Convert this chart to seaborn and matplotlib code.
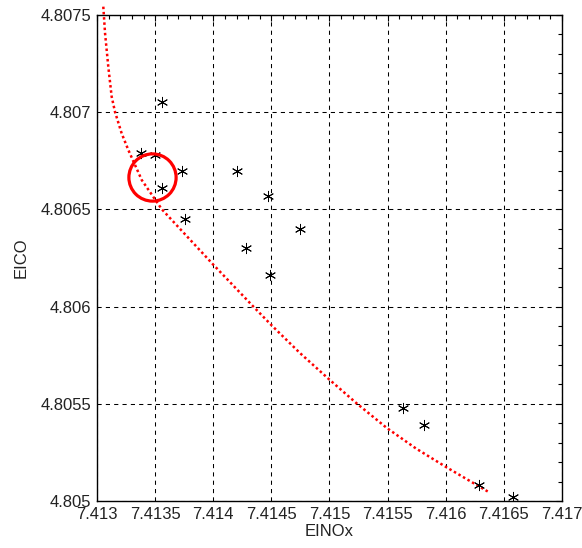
import matplotlib
matplotlib.use("Agg")
import matplotlib.pyplot as plt
import seaborn as sns
import pandas as pd
from matplotlib.ticker import MultipleLocator

# scattered evaluations (EINOx, EICO)
einox_pts = [7.41356, 7.41338, 7.41350, 7.41373, 7.41356, 7.41420, 7.41447,
             7.41376, 7.41428, 7.41475, 7.41449, 7.41563, 7.41581, 7.41629,
             7.41658]
eico_pts = [4.80705, 4.80679, 4.80678, 4.80670, 4.80661, 4.80670, 4.80657,
            4.80645, 4.80630, 4.80640, 4.80616, 4.80548, 4.80539, 4.80508,
            4.80502]

# red dotted front
einox_front = [7.413054, 7.413069, 7.413097, 7.413126, 7.413155, 7.413212,
               7.413269, 7.413385, 7.413557, 7.413995, 7.414345, 7.414503,
               7.414746, 7.414998, 7.415234, 7.415492, 7.415744, 7.416002,
               7.416361]
eico_front = [4.807543, 4.807407, 4.807234, 4.807080, 4.807001, 4.806891,
              4.806806, 4.806651, 4.806501, 4.806219, 4.806000, 4.805903,
              4.805761, 4.805625, 4.805502, 4.805376, 4.805270, 4.805175,
              4.805049]

# highlighted point
circle_x = [7.41347]
circle_y = [4.806668]

sns.set_style("white")
plt.rcParams['font.family'] = ['Liberation Sans', 'DejaVu Sans']

pts = pd.DataFrame({'EINOx': einox_pts, 'EICO': eico_pts})
front = pd.DataFrame({'EINOx': einox_front, 'EICO': eico_front})

fig = plt.figure(figsize=(5.82, 5.48), dpi=100)
ax = fig.add_axes([0.1667, 0.0858, 0.7989, 0.8868])

sns.lineplot(data=front, x='EINOx', y='EICO', ax=ax, color='red',
             linewidth=1.8, linestyle=(0, (1, 1.1)), clip_on=False, zorder=3)
sns.scatterplot(data=pts, x='EINOx', y='EICO', ax=ax, marker=(6, 2, 0),
                color='black', edgecolor='black', s=55, linewidth=0.7,
                zorder=4)
ax.plot(circle_x, circle_y, marker='o', markersize=34, markerfacecolor='none',
        markeredgecolor='red', markeredgewidth=2.3, linestyle='none', zorder=5)

ax.set_xlim(7.413, 7.417)
ax.set_ylim(4.805, 4.8075)
ax.xaxis.set_minor_locator(MultipleLocator(0.0001))
ax.yaxis.set_minor_locator(MultipleLocator(0.0001))
ax.set_xticks([7.413, 7.4135, 7.414, 7.4145, 7.415, 7.4155, 7.416, 7.4165, 7.417])
ax.set_xticklabels(['7.413', '7.4135', '7.414', '7.4145', '7.415', '7.4155',
                    '7.416', '7.4165', '7.417'])
ax.set_yticks([4.805, 4.8055, 4.806, 4.8065, 4.807, 4.8075])
ax.set_yticklabels(['4.805', '4.8055', '4.806', '4.8065', '4.807', '4.8075'])

ax.grid(True, which='major', color='black', linestyle=(0, (4, 4)), linewidth=0.75)
ax.tick_params(which='both', direction='in', top=True, right=True,
               colors='black', labelcolor='#222222', labelsize=12)
ax.tick_params(which='major', length=4, width=0.8, pad=4)
ax.tick_params(which='minor', length=3, width=0.8)
for s in ax.spines.values():
    s.set_color('black')
    s.set_linewidth(1.0)

ax.set_xlabel('EINOx', fontsize=12, color='#222222', labelpad=2)
ax.set_ylabel('EICO', fontsize=12, color='#222222', labelpad=9)

fig.savefig('out.png', dpi=100)
